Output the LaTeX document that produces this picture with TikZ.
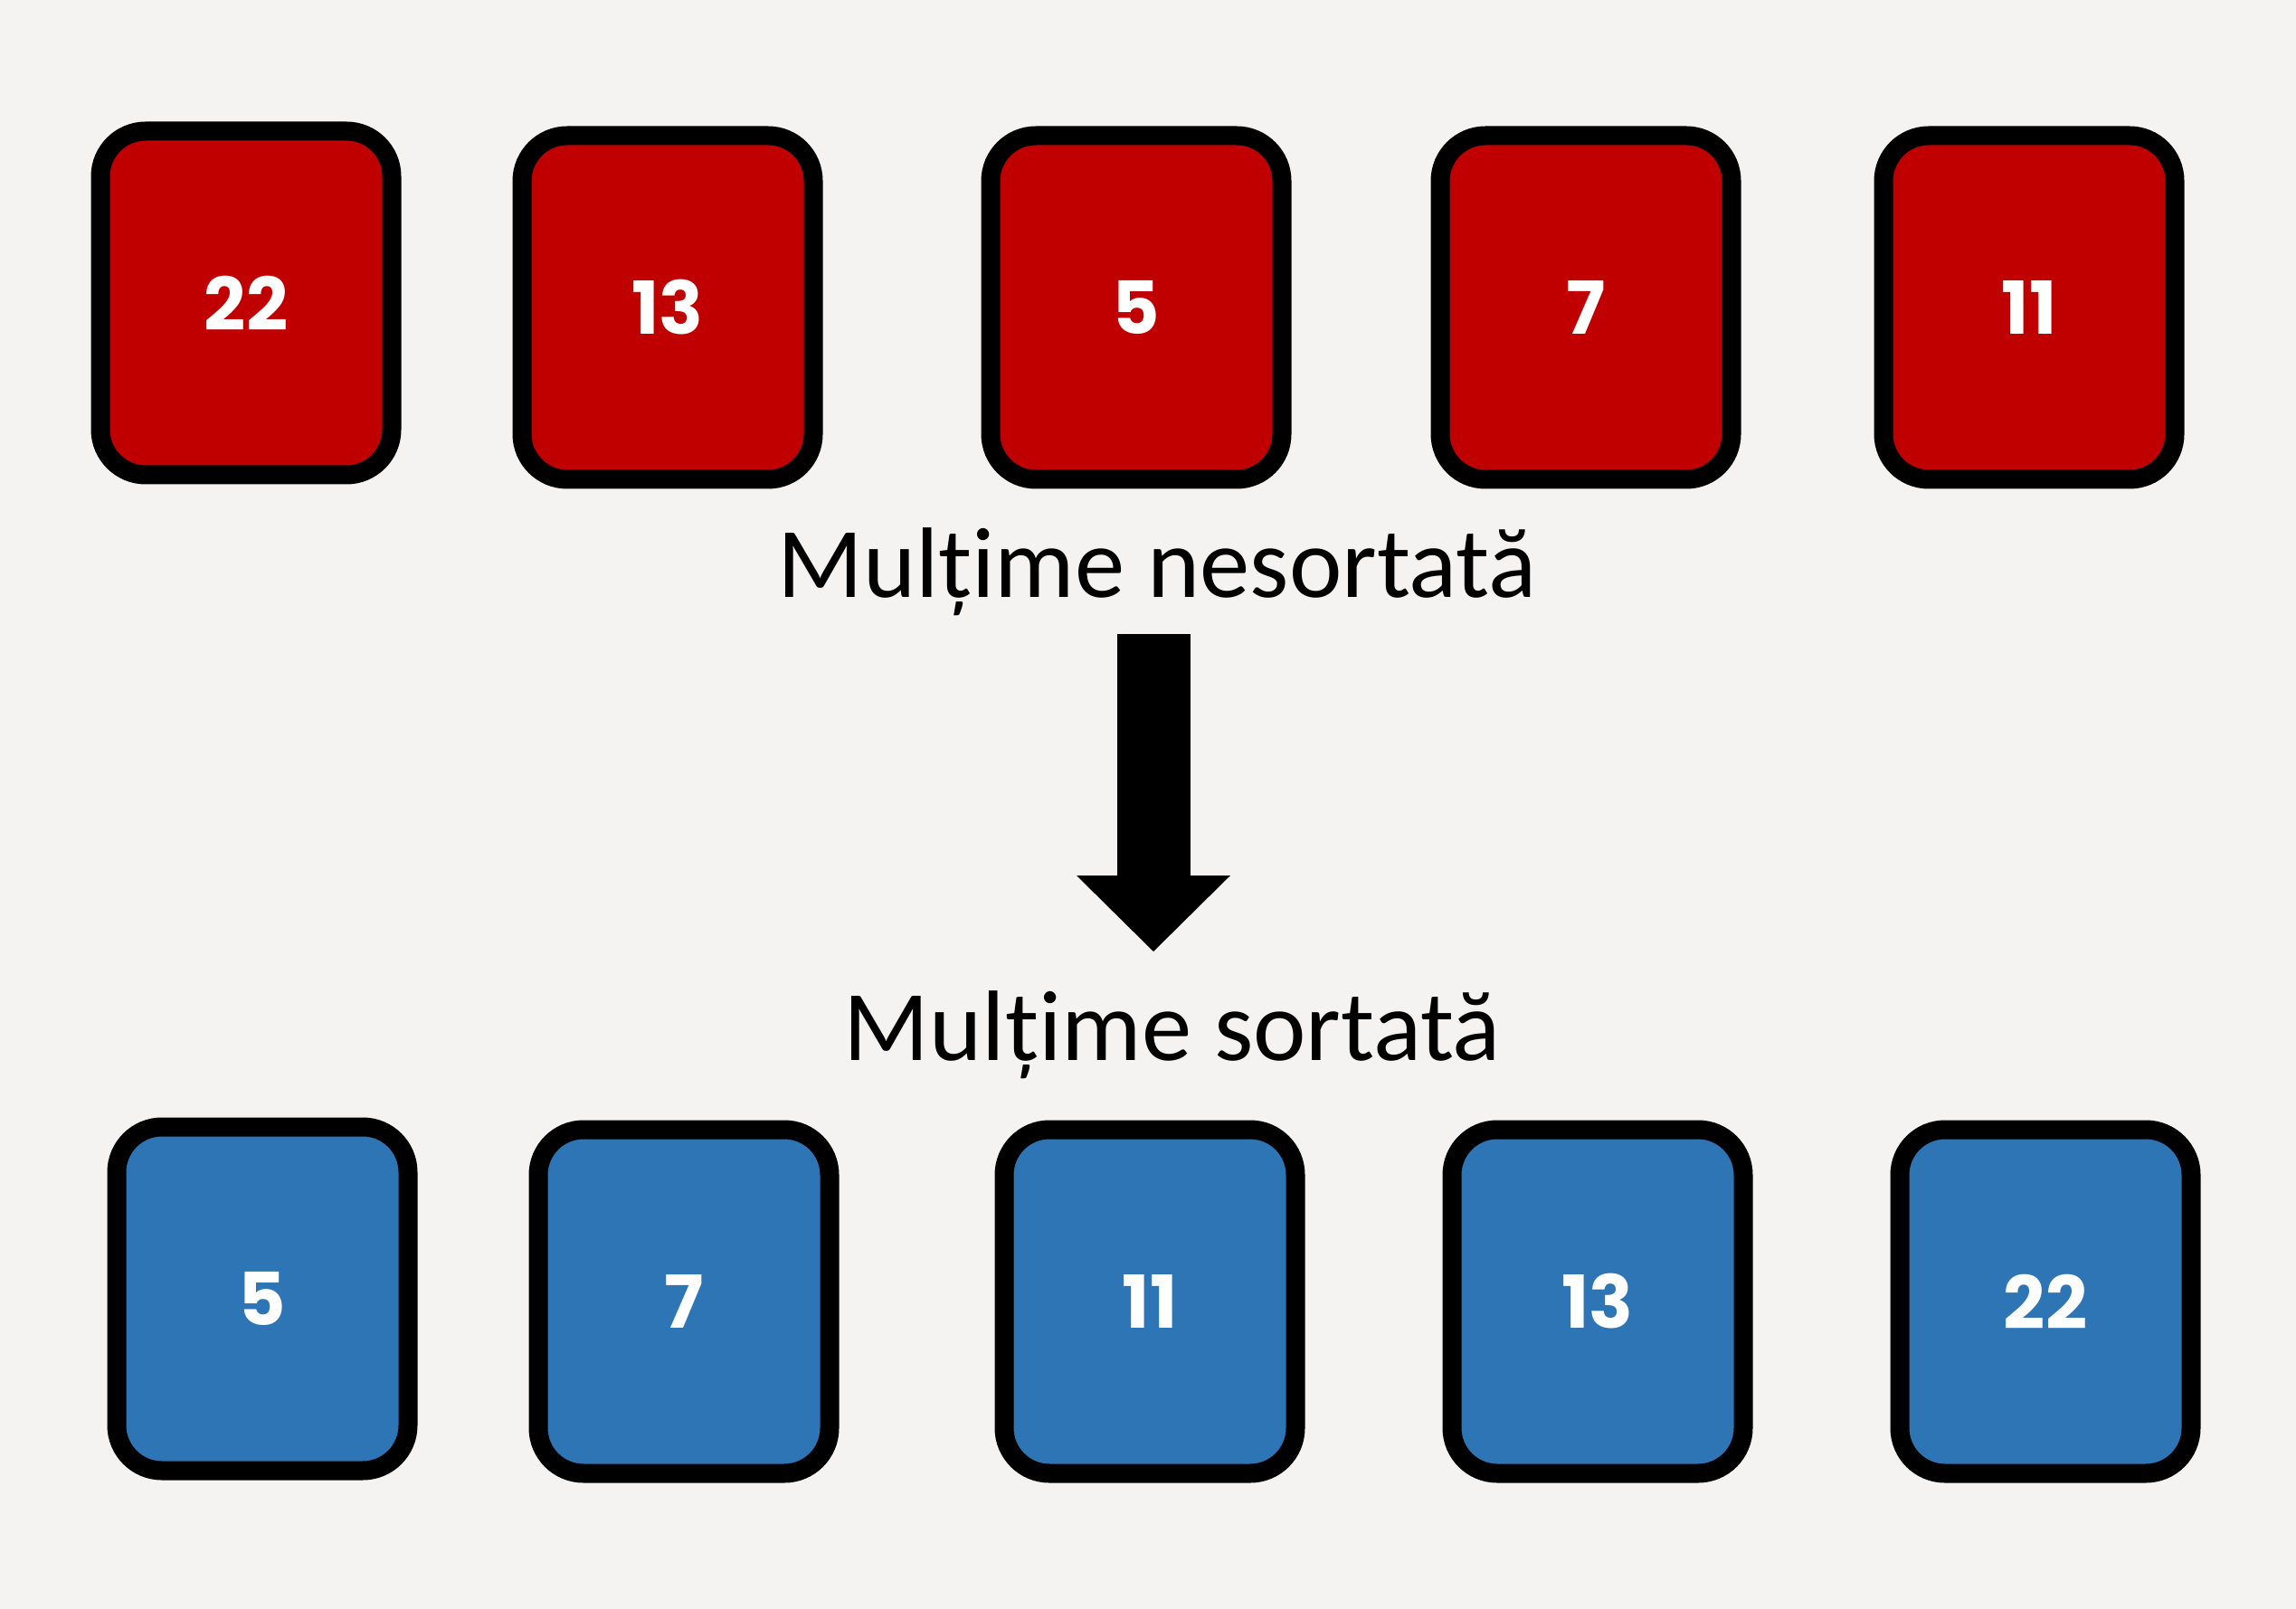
\documentclass[tikz,border=0pt]{standalone}
\usepackage{fontspec}
\setmainfont{Carlito}
\newfontfamily\numfont{Poppins}
\usepackage{tikz}
\usetikzlibrary{arrows.meta}

\definecolor{bgcol}{RGB}{244,243,241}
\definecolor{redbox}{RGB}{192,0,0}
\definecolor{bluebox}{RGB}{46,117,182}

\tikzset{
  card/.style={draw=black, line width=0.21cm, rounded corners=0.5cm,
    minimum width=3.22cm, minimum height=3.80cm, inner sep=0pt,
    text=white, font=\numfont\bfseries\fontsize{23}{23}\selectfont},
  redcard/.style={card, fill=redbox},
  bluecard/.style={card, fill=bluebox},
  caption/.style={anchor=base, font=\fontsize{31.5}{31.5}\selectfont},
  bigarrow/.style={line width=0.81cm,
    -{Triangle[width=1.70cm, length=0.84cm, line width=0pt]}}
}

\begin{document}
\begin{tikzpicture}
  \fill[bgcol] (0, 0) rectangle (25.38, -17.79);
  \useasboundingbox (0, 0) rectangle (25.38, -17.79);

  % unsorted
  \node[redcard] (u1) at (2.72, -3.35)  {22};
  \node[redcard] (u2) at (7.38, -3.40)  {13};
  \node[redcard] (u3) at (12.56, -3.40) {5};
  \node[redcard] (u4) at (17.53, -3.40) {7};
  \node[redcard] (u5) at (22.43, -3.40) {11};
  \node[caption] (unsorted) at (12.79, -6.60) {Mulțime nesortată};

  \coordinate (arrtop) at (12.75, -7.01);
  \coordinate (arrtip) at (12.75, -10.52);
  \draw[bigarrow] (arrtop) -- (arrtip);

  % sorted
  \node[caption] (sorted) at (12.96, -11.72) {Mulțime sortată};
  \node[bluecard] (s1) at (2.90, -14.36)  {5};
  \node[bluecard] (s2) at (7.56, -14.39)  {7};
  \node[bluecard] (s3) at (12.71, -14.39) {11};
  \node[bluecard] (s4) at (17.66, -14.39) {13};
  \node[bluecard] (s5) at (22.61, -14.39) {22};
\end{tikzpicture}
\end{document}
